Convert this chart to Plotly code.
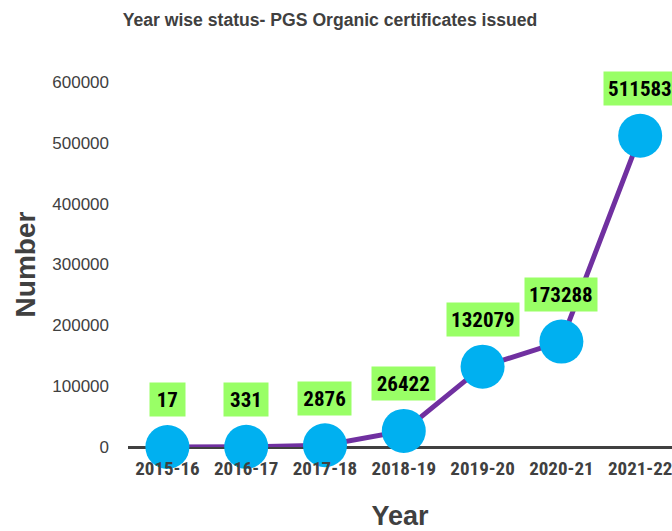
import plotly.graph_objects as go

years = ["2015-16", "2016-17", "2017-18", "2018-19", "2019-20", "2020-21", "2021-22"]
certificates = [17, 331, 2876, 26422, 132079, 173288, 511583]
y_ticks = [0, 100000, 200000, 300000, 400000, 500000, 600000]

narrow = "Liberation Sans Narrow, Arial Narrow, Roboto Condensed, Liberation Sans, Arial, sans-serif"
sans = "Liberation Sans, Arial, sans-serif"
grey = "#404040"

fig = go.Figure()
fig.add_trace(go.Scatter(
    x=list(range(len(years))), y=certificates,
    mode="lines+markers",
    line=dict(color="#7030A0", width=5),
    marker=dict(size=44, color="#00B0F0"),
    cliponaxis=False,
    hoverinfo="skip",
))

for i, v in enumerate(certificates):
    label = str(v)
    fig.add_annotation(
        x=i, y=v, xref="x", yref="y",
        text=label,
        showarrow=False, yshift=47,
        width=9.3 * len(label) + 8, height=25,
        font=dict(family=narrow, size=21, color="#000000", weight="bold"),
        bgcolor="#99FF66", borderpad=4,
    )

fig.update_layout(
    width=672, height=531,
    margin=dict(l=128, r=0, t=82, b=84),
    paper_bgcolor="white", plot_bgcolor="white",
    showlegend=False,
    title=dict(
        text="<b>Year wise status- PGS Organic certificates issued</b>",
        font=dict(family=sans, size=17.6, color=grey),
        x=330 / 672, xanchor="center", y=1 - 20 / 531, yanchor="middle", yref="container",
    ),
    xaxis=dict(
        range=[-0.5, 6.404],
        tickmode="array", tickvals=list(range(len(years))), ticktext=years,
        tickfont=dict(family=narrow, size=19, color=grey, weight="bold"),
        ticklabeloverflow="allow", ticklabelstandoff=8,
        showgrid=False, zeroline=False, showline=False, ticks="",
        title=dict(text="<b>Year</b>", font=dict(family=sans, size=27, color=grey), standoff=28),
    ),
    yaxis=dict(
        range=[0, 600000],
        tickmode="array", tickvals=y_ticks, ticktext=[str(t) for t in y_ticks],
        tickfont=dict(family=sans, size=17, color=grey),
        showgrid=False, showline=False, ticks="",
        zeroline=True, zerolinecolor=grey, zerolinewidth=3,
        ticklabelstandoff=18,
        title=dict(text="<b>Number</b>", font=dict(family=sans, size=28, color=grey), standoff=8),
    ),
)

fig.write_html(
    "out.html",
    config={"displayModeBar": False},
    post_script="document.body.style.margin='0';document.body.style.overflow='hidden';",
)
